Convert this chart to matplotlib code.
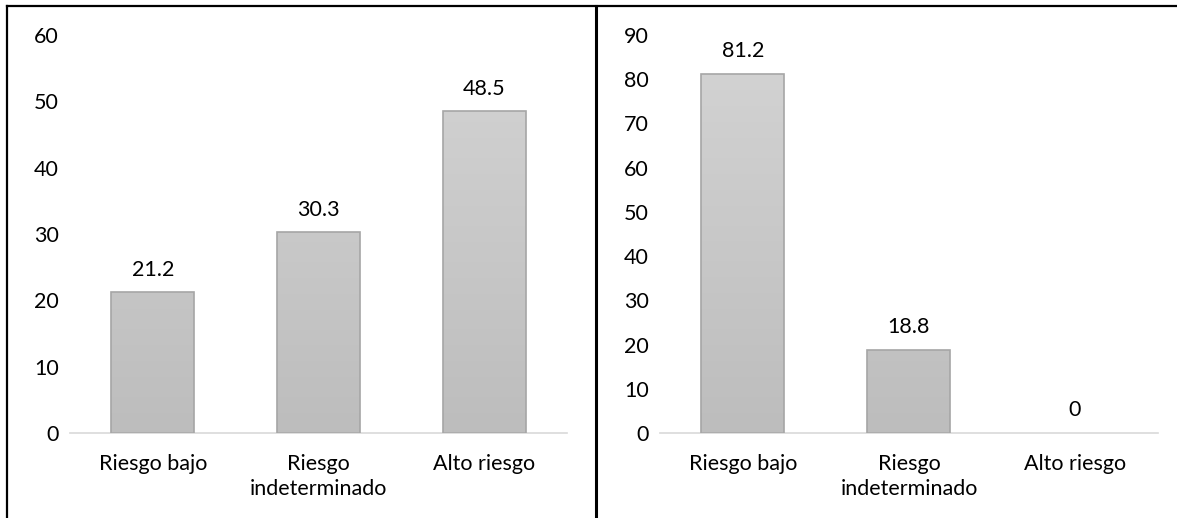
import numpy as np
import matplotlib.pyplot as plt
from matplotlib.lines import Line2D
from matplotlib.colors import LinearSegmentedColormap

# data
categories = ['Riesgo bajo', 'Riesgo\nindeterminado', 'Alto riesgo']
left_values = [21.2, 30.3, 48.5]
right_values = [81.2, 18.8, 0]
left_labels = ['21.2', '30.3', '48.5']
right_labels = ['81.2', '18.8', '0']

plt.rcParams['font.family'] = ['Lato', 'DejaVu Sans']
FS = 15.5

grad = LinearSegmentedColormap.from_list('g', ['#bdbdbd', '#d4d4d4'])


def gradient_bars(ax, values, labels, ymax, step):
    x = np.arange(len(values))
    bars = ax.bar(x, values, width=0.5, color='none', edgecolor='#a6a6a6',
                  linewidth=1.2, zorder=3)
    for b in bars:
        if b.get_height() <= 0:
            b.set_linewidth(0)
            continue
        x0 = b.get_x()
        img = ax.imshow(np.linspace(0, 1, 100).reshape(-1, 1), cmap=grad,
                        origin='lower', aspect='auto', zorder=2,
                        extent=[x0, x0 + b.get_width(), 0, ymax])
        img.set_clip_path(b)
    for xi, v, lab in zip(x, values, labels):
        ax.annotate(lab, (xi, v), xytext=(0, 9), textcoords='offset points',
                    ha='center', va='bottom', fontsize=FS)
    ax.set_xlim(-0.5, len(values) - 0.5)
    ax.set_ylim(0, ymax)
    ax.set_yticks(np.arange(0, ymax + 1, step))
    ax.set_xticks(x)
    ax.set_xticklabels(categories, fontsize=FS, linespacing=1.3)
    ax.tick_params(axis='both', length=0, labelsize=FS)
    ax.tick_params(axis='y', pad=8)
    ax.tick_params(axis='x', pad=15)
    for s in ['top', 'right', 'left']:
        ax.spines[s].set_visible(False)
    ax.spines['bottom'].set_color('#d9d9d9')
    ax.spines['bottom'].set_linewidth(1.2)


fig = plt.figure(figsize=(11.77, 5.18), dpi=100)
ax1 = fig.add_axes([0.0595, 0.1641, 0.4223, 0.7683])
ax2 = fig.add_axes([0.5607, 0.1641, 0.4231, 0.7683])
gradient_bars(ax1, left_values, left_labels, 60, 10)
gradient_bars(ax2, right_values, right_labels, 90, 10)

# panel borders
fig.add_artist(Line2D([0.006, 1.0], [0.988, 0.988], color='black', lw=1.6,
                      transform=fig.transFigure))
fig.add_artist(Line2D([0.006, 0.006], [0.0, 0.988], color='black', lw=1.6,
                      transform=fig.transFigure))
fig.add_artist(Line2D([0.5064, 0.5064], [0.0, 0.988], color='black', lw=2.2,
                      transform=fig.transFigure))

plt.savefig('out.png', dpi=100)
